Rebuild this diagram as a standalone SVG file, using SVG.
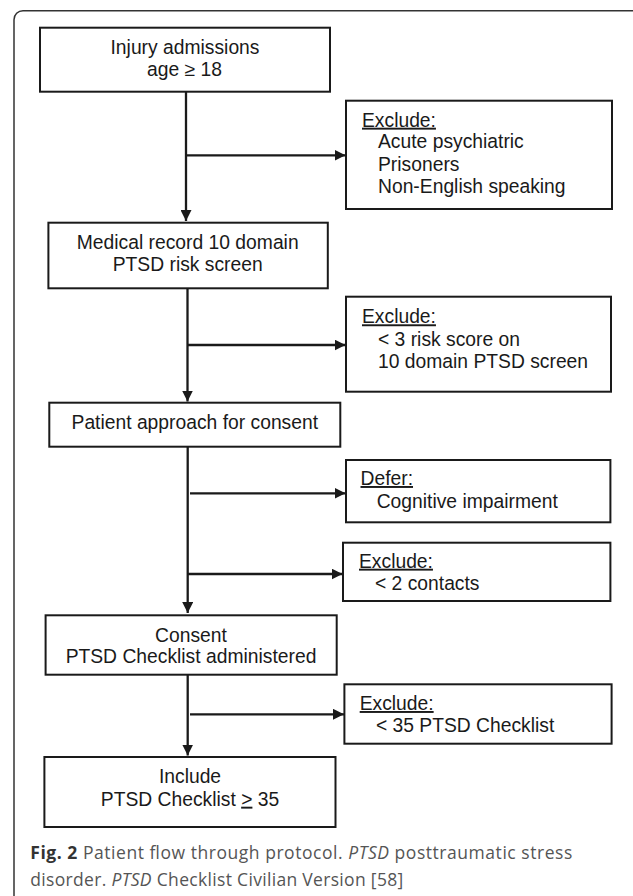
<svg xmlns="http://www.w3.org/2000/svg" width="633" height="896" viewBox="0 0 633 896">
<style>
.box{fill:#fff;stroke:#1a1a1a;stroke-width:2}
.t{font-family:"Liberation Sans",Arial,sans-serif;font-size:19.3px;fill:#1a1a1a}
.c{text-anchor:middle}
.u{text-decoration:underline}
.ln{stroke:#1a1a1a;stroke-width:2.3;fill:none}
.cap{font-family:"Open Sans","Noto Sans",sans-serif;font-size:17.5px;fill:#555}
</style>
<defs>
<marker id="ah" markerUnits="userSpaceOnUse" markerWidth="11" markerHeight="11" refX="11" refY="5.5" orient="auto">
<path d="M0,0 L11,5.5 L0,11 z" fill="#1a1a1a"/>
</marker>
</defs>
<rect x="14" y="10.7" width="640" height="900" rx="9" fill="none" stroke="#333" stroke-width="1.5"/>
<g id="connectors">
<line class="ln" x1="186" y1="92" x2="186" y2="221" marker-end="url(#ah)"/>
<line class="ln" x1="186" y1="155.3" x2="345.5" y2="155.3" marker-end="url(#ah)"/>
<line class="ln" x1="187.5" y1="288.3" x2="187.5" y2="401.5" marker-end="url(#ah)"/>
<line class="ln" x1="187.5" y1="345" x2="345.5" y2="345" marker-end="url(#ah)"/>
<line class="ln" x1="187.7" y1="446.7" x2="187.7" y2="613" marker-end="url(#ah)"/>
<line class="ln" x1="190" y1="493.3" x2="345.5" y2="493.3" marker-end="url(#ah)"/>
<line class="ln" x1="187.7" y1="574" x2="342.5" y2="574" marker-end="url(#ah)"/>
<line class="ln" x1="187.7" y1="674.7" x2="187.7" y2="755.5" marker-end="url(#ah)"/>
<line class="ln" x1="190" y1="714.3" x2="344" y2="714.3" marker-end="url(#ah)"/>
</g>
<g id="n1">
<rect class="box" x="40" y="27.7" width="290" height="64"/>
<text class="t c" x="185" y="54.3">Injury admissions</text>
<text class="t c" x="184.5" y="76">age ≥ 18</text>
</g>
<g id="e1">
<rect class="box" x="346" y="100.7" width="266" height="108.3"/>
<text class="t u" x="362" y="126.7">Exclude:</text>
<text class="t" x="378" y="148.3">Acute psychiatric</text>
<text class="t" x="378" y="171.3">Prisoners</text>
<text class="t" x="378" y="193.3">Non-English speaking</text>
</g>
<g id="n2">
<rect class="box" x="48.4" y="222.7" width="279.4" height="65.6"/>
<text class="t c" x="187.7" y="249.3">Medical record 10 domain</text>
<text class="t c" x="187.7" y="271">PTSD risk screen</text>
</g>
<g id="e2">
<rect class="box" x="346" y="296.7" width="265" height="95"/>
<text class="t u" x="362" y="323.3">Exclude:</text>
<text class="t" x="378" y="345.7">&lt; 3 risk score on</text>
<text class="t" x="378" y="367.7">10 domain PTSD screen</text>
</g>
<g id="n3">
<rect class="box" x="49.3" y="402.7" width="291" height="44"/>
<text class="t c" x="194.8" y="429">Patient approach for consent</text>
</g>
<g id="d1">
<rect class="box" x="346" y="460" width="264.4" height="62.3"/>
<text class="t u" x="360.5" y="485">Defer:</text>
<text class="t" x="376.7" y="508">Cognitive impairment</text>
</g>
<g id="e3">
<rect class="box" x="343" y="542.7" width="267.4" height="58.3"/>
<text class="t u" x="359" y="567.7">Exclude:</text>
<text class="t" x="375" y="590">&lt; 2 contacts</text>
</g>
<g id="n4">
<rect class="box" x="45.6" y="615.3" width="291.1" height="59.4"/>
<text class="t c" x="191" y="641.7">Consent</text>
<text class="t c" x="191" y="663.3">PTSD Checklist administered</text>
</g>
<g id="e4">
<rect class="box" x="344.4" y="684.3" width="267.2" height="59.4"/>
<text class="t u" x="359.7" y="710">Exclude:</text>
<text class="t" x="375.9" y="731.7">&lt; 35 PTSD Checklist</text>
</g>
<g id="n5">
<rect class="box" x="44.4" y="757" width="291.1" height="70"/>
<text class="t c" x="190" y="782.7">Include</text>
<text class="t c" x="190" y="805.7">PTSD Checklist <tspan class="u">&gt;</tspan> 35</text>
</g>
<g id="caption">
<text class="cap" x="30.3" y="859.3" textLength="542" lengthAdjust="spacing"><tspan font-weight="bold" fill="#333">Fig. 2</tspan> Patient flow through protocol. <tspan font-style="italic">PTSD</tspan> posttraumatic stress</text>
<text class="cap" x="30.3" y="886" textLength="373" lengthAdjust="spacing">disorder. <tspan font-style="italic">PTSD</tspan> Checklist Civilian Version [58]</text>
</g>
</svg>
